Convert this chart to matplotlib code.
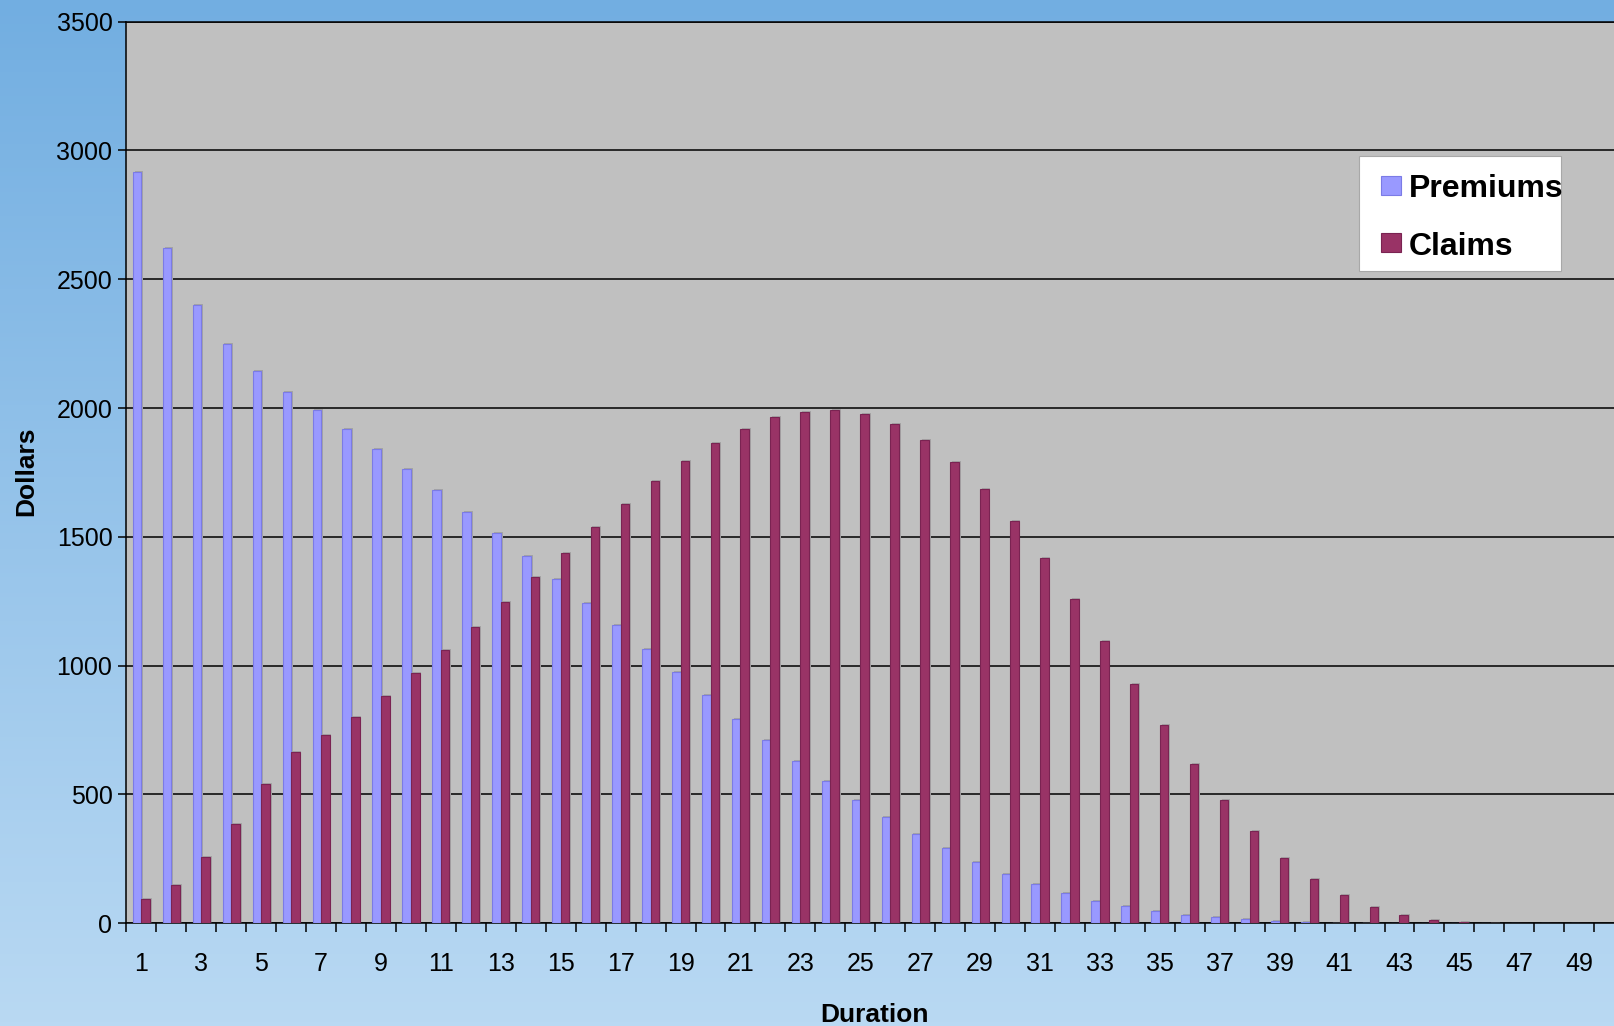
import numpy as np
import matplotlib
matplotlib.use("Agg")
import matplotlib.pyplot as plt
from matplotlib.colors import LinearSegmentedColormap
from matplotlib.patches import Rectangle

# values (dollars per policy year)
durations = list(range(1, 50))
premiums = [2915, 2620, 2400, 2248, 2143, 2063, 1991, 1917, 1841, 1763,
            1682, 1598, 1514, 1424, 1338, 1245, 1157, 1064, 974, 885,
            794, 710, 629, 551, 478, 411, 347, 291, 239, 193,
            153, 118, 87, 67, 49, 33, 25, 17, 9, 5,
            2, 1, 0, 0, 0, 0, 0, 0, 0]
claims = [93, 150, 258, 386, 542, 663, 729, 802, 884, 971,
          1060, 1151, 1246, 1345, 1439, 1537, 1628, 1718, 1795, 1865,
          1919, 1964, 1986, 1992, 1977, 1938, 1877, 1791, 1686, 1561,
          1416, 1257, 1094, 928, 769, 618, 478, 358, 253, 172,
          110, 63, 32, 13, 5, 1, 0, 0, 0]
y_ticks = [0, 500, 1000, 1500, 2000, 2500, 3000, 3500]
x_labels = [str(d) for d in durations if d % 2 == 1]

PREM_COLOR = '#9999FF'
CLAIM_COLOR = '#993366'

plt.rcParams['font.family'] = ['Liberation Sans', 'DejaVu Sans']

W, H = 1614, 1026
fig = plt.figure(figsize=(W / 100, H / 100), dpi=100)

# blue gradient background
bg = fig.add_axes([0, 0, 1, 1], zorder=-10)
cmap = LinearSegmentedColormap.from_list("bg", ["#B9D9F3", "#72AEE1"])
grad = np.linspace(0, 1, 256).reshape(-1, 1)
bg.imshow(grad, aspect='auto', cmap=cmap, origin='lower', extent=[0, 1, 0, 1])
bg.axis('off')

ax = fig.add_axes([0.0783, 0.1001, 0.928, 0.8789])
ax.set_facecolor('#C0C0C0')

x = np.array(durations)
w = 0.286
dx, dy = 0.06, 4  # small drop shadow like the spreadsheet chart
ax.bar(x - w / 2 + dx, np.where(np.array(premiums) > 0, np.array(premiums) + dy, 0),
       width=w, color='#A4A4A4', linewidth=0, zorder=2)
ax.bar(x + w / 2 + dx, np.where(np.array(claims) > 0, np.array(claims) + dy, 0),
       width=w, color='#A4A4A4', linewidth=0, zorder=2)
ax.bar(x - w / 2, premiums, width=w, color=PREM_COLOR, edgecolor='#7B7BE6',
       linewidth=0.8, zorder=3)
ax.bar(x + w / 2, claims, width=w, color=CLAIM_COLOR, edgecolor='#7A2352',
       linewidth=0.8, zorder=3)

ax.set_xlim(0.5, 50.5)
ax.set_ylim(0, 3500)
ax.set_yticks(y_ticks)
ax.set_yticklabels([str(v) for v in y_ticks], fontsize=18)
ax.yaxis.grid(True, color='black', linewidth=1.1)
ax.set_axisbelow(True)

# ticks on category boundaries, labels on every other category centre
ax.set_xticks(np.arange(0.5, 50, 1.0))
ax.set_xticklabels([])
ax.set_xticks([d for d in durations if d % 2 == 1], minor=True)
ax.set_xticklabels(x_labels, minor=True, fontsize=18)
ax.tick_params(axis='x', which='major', direction='out', length=6.5, width=1.1, color='black')
ax.tick_params(axis='x', which='minor', length=0, pad=21)
ax.tick_params(axis='y', direction='out', length=6, width=1.1, pad=4)

ax.spines['right'].set_visible(False)
for s in ['top', 'left', 'bottom']:
    ax.spines[s].set_linewidth(1.1)

fig.text(0.016, 0.541, 'Dollars', rotation=90, fontsize=19, fontweight='bold',
         ha='center', va='center')
fig.text(0.5421, 0.0107, 'Duration', fontsize=19, fontweight='bold',
         ha='center', va='center')

# legend box drawn by hand (pixel layout of the original)
def fx(px):
    return px / W

def fy(py):
    return 1 - py / H

fig.patches.append(Rectangle((fx(1359), fy(271)), fx(1561) - fx(1359), fy(156) - fy(271),
                             transform=fig.transFigure, facecolor='white',
                             edgecolor='#A8A8A8', linewidth=0.8, zorder=5))
for label, color, edge, top, base in [('Premiums', PREM_COLOR, '#7B7BE6', 176, 197),
                                      ('Claims', CLAIM_COLOR, '#7A2352', 233, 255)]:
    fig.patches.append(Rectangle((fx(1381), fy(top + 19)), fx(1401) - fx(1381), fy(top) - fy(top + 19),
                                 transform=fig.transFigure, facecolor=color,
                                 edgecolor=edge, linewidth=0.8, zorder=6))
    fig.text(fx(1409), fy(base), label, fontsize=23, fontweight='bold',
             ha='left', va='baseline', zorder=6)

plt.savefig("out.png", dpi=100)
